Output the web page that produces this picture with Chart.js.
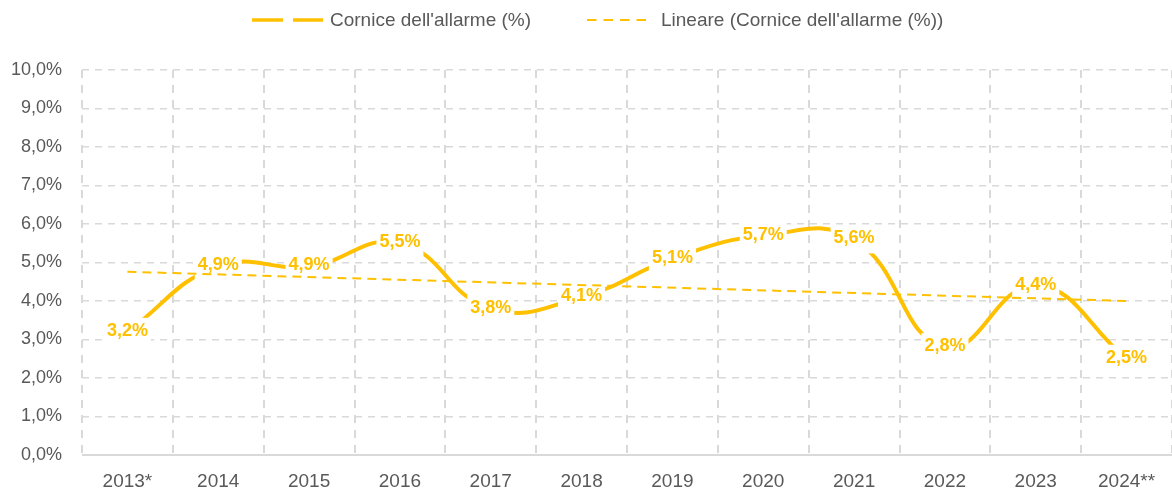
<!DOCTYPE html>
<html>
<head>
<meta charset="utf-8">
<script src="https://cdn.jsdelivr.net/npm/chart.js@4.4.1/dist/chart.umd.min.js"></script>
<style>
  html, body { margin: 0; padding: 0; background: #fff; }
  #wrap { position: relative; width: 1172px; height: 493px; overflow: hidden; }
  #chart { position: absolute; left: 0; top: 0; }
  .lg-text { position: absolute; top: 8px; font: 19px "Liberation Sans", Arial, sans-serif; color: #595959; white-space: nowrap; line-height: 24px; }
</style>
</head>
<body>
<div id="wrap">
  <canvas id="chart" width="1172" height="493"></canvas>
  <svg width="1172" height="40" style="left:0;top:0;position:absolute">
    <line x1="252" y1="20" x2="323" y2="20" stroke="#FFC000" stroke-width="3.5" stroke-dasharray="31 10"/>
    <line x1="587" y1="20" x2="650" y2="20" stroke="#FFC000" stroke-width="2" stroke-dasharray="9.5 7"/>
  </svg>
  <div class="lg-text" style="left:330px">Cornice dell'allarme (%)</div>
  <div class="lg-text" style="left:661px">Lineare (Cornice dell'allarme (%))</div>
</div>
<script>
// ---- data ----
const categories = ["2013*", "2014", "2015", "2016", "2017", "2018", "2019", "2020", "2021", "2022", "2023", "2024**"];
const alarmValues = [3.2, 4.9, 4.9, 5.5, 3.8, 4.1, 5.1, 5.7, 5.6, 2.8, 4.4, 2.5];
const trendValues = [4.76, null, null, null, null, null, null, null, null, null, null, 4.0];
const yTicks = [0, 1, 2, 3, 4, 5, 6, 7, 8, 9, 10];
const seriesName = "Cornice dell'allarme (%)";
const trendName = "Lineare (Cornice dell'allarme (%))";

const FONT = '"Liberation Sans", Arial, sans-serif';
const YELLOW = '#FFC000';
const GRID = '#D9D9D9';
const TEXT = '#595959';

function pct(v) { return v.toFixed(1).replace('.', ',') + '%'; }

const valueLabels = {
  id: 'valueLabels',
  afterDatasetDraw(chart, args) {
    if (args.index !== 0) return;
    const ctx = chart.ctx;
    ctx.save();
    ctx.font = 'bold 18px ' + FONT;
    ctx.textAlign = 'center';
    ctx.textBaseline = 'middle';
    args.meta.data.forEach((pt, i) => {
      const txt = pct(alarmValues[i]);
      const w = ctx.measureText(txt).width + 6;
      const h = 28;
      ctx.fillStyle = '#ffffff';
      ctx.fillRect(pt.x - w / 2, pt.y - h / 2, w, h);
      ctx.fillStyle = YELLOW;
      ctx.fillText(txt, pt.x, pt.y - 1);
    });
    ctx.restore();
  }
};

new Chart(document.getElementById('chart'), {
  type: 'line',
  data: {
    labels: categories,
    datasets: [
      {
        label: seriesName,
        data: alarmValues,
        borderColor: YELLOW,
        borderWidth: 4,
        tension: 0.45,
        pointRadius: 0,
        pointHoverRadius: 0,
        fill: false,
        order: 2,
        borderCapStyle: 'round'
      },
      {
        label: trendName,
        data: trendValues,
        borderColor: YELLOW,
        borderWidth: 2,
        borderDash: [9, 6],
        spanGaps: true,
        tension: 0,
        pointRadius: 0,
        pointHoverRadius: 0,
        fill: false,
        order: 1
      }
    ]
  },
  options: {
    responsive: false,
    animation: false,
    devicePixelRatio: 1,
    events: [],
    layout: { padding: { top: 70, left: 0, right: 0, bottom: 0 } },
    plugins: {
      legend: { display: false },
      tooltip: { enabled: false },
      title: { display: false }
    },
    scales: {
      x: {
        type: 'category',
        offset: true,
        grid: { offset: true, color: GRID, lineWidth: 2, drawTicks: false },
        border: { display: false, dash: [8, 7] },
        ticks: { color: TEXT, font: { family: FONT, size: 19 }, padding: 15, maxRotation: 0, autoSkip: false },
        afterFit(scale) { scale.height = 38; }
      },
      y: {
        min: 0,
        max: 10,
        afterBuildTicks(scale) { scale.ticks = yTicks.map(v => ({ value: v })); },
        grid: { color: GRID, lineWidth: ctx => (ctx.tick && ctx.tick.value === 0 ? 2 : 1.5), drawTicks: false },
        border: { display: false, dash: ctx => (ctx.tick && ctx.tick.value === 0 ? [] : [7, 6]) },
        ticks: { color: TEXT, font: { family: FONT, size: 18 }, padding: 20, callback: v => pct(v) },
        afterFit(scale) { scale.width = 82; }
      }
    }
  },
  plugins: [valueLabels]
});
</script>
</body>
</html>
